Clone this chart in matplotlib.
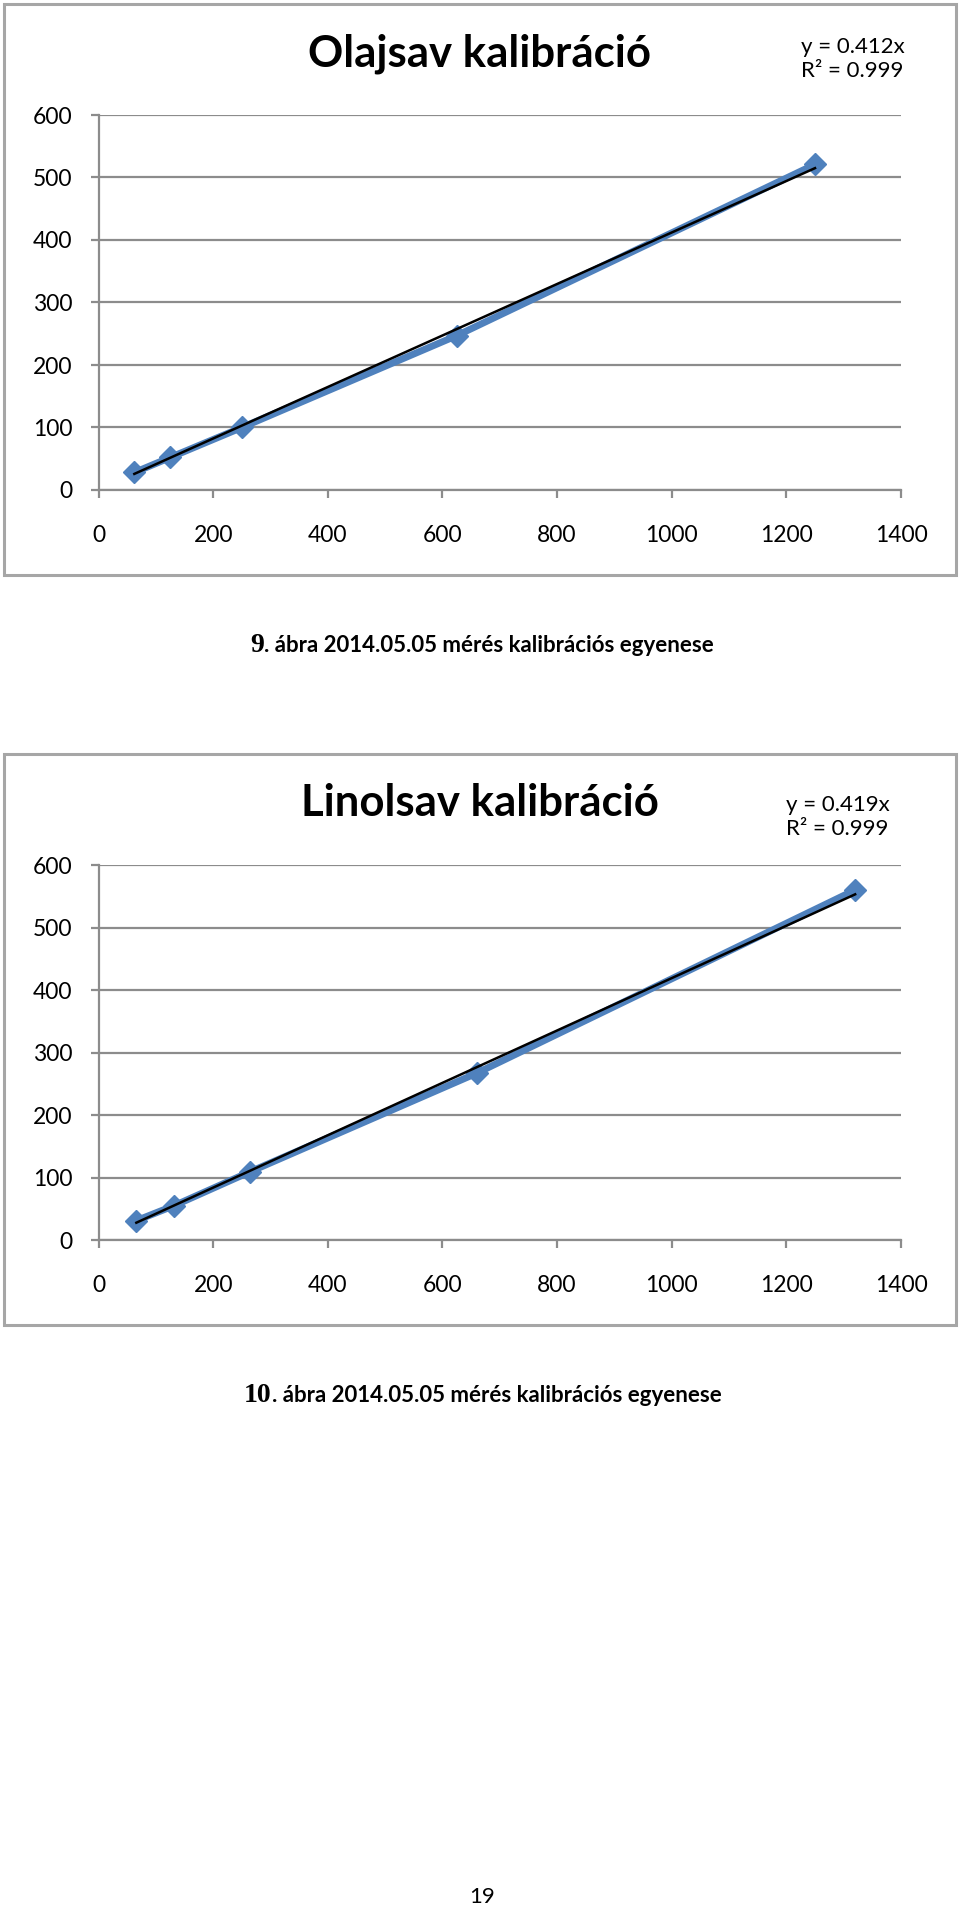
import matplotlib
matplotlib.use("Agg")
import matplotlib.pyplot as plt
from matplotlib.patches import Rectangle

# ---- data ----
x_olaj = [62.5, 125, 250, 625, 1250]
y_olaj = [28, 52, 100, 247, 521]
slope_olaj = 0.412
title_olaj = "Olajsav kalibráció"
eq_olaj = "y = 0.412x\nR² = 0.999"
cap_num_olaj = "9"

x_lin = [66, 132, 264, 660, 1320]
y_lin = [31, 55, 109, 267, 560]
slope_lin = 0.419
title_lin = "Linolsav kalibráció"
eq_lin = "y = 0.419x\nR² = 0.999"
cap_num_lin = "10"

caption_text = ". ábra 2014.05.05 mérés kalibrációs egyenese"
xticks = [0, 200, 400, 600, 800, 1000, 1200, 1400]
yticks = [0, 100, 200, 300, 400, 500, 600]
page_number = "19"

W, H = 960, 1910
DPI = 100
fig = plt.figure(figsize=(W / DPI, H / DPI), dpi=DPI)
fig.patch.set_facecolor("white")

FONT = ["Lato", "DejaVu Sans"]
BLUE = "#4f81bd"
GRID = "#8c8c8c"


def fx(px):
    return px / W


def fy(py):
    return 1 - py / H


def chart(frame_top, frame_bottom, ax_top, ax_bottom, xs, ys, slope, title, eq,
          title_y, eq_x, eq_y):
    # frame
    fig.patches.append(Rectangle((fx(4), fy(frame_bottom)), fx(952), (frame_bottom - frame_top) / H,
                                 transform=fig.transFigure, fill=False,
                                 edgecolor="#a6a6a6", linewidth=2.2))
    left, right = 98.5, 901
    ax = fig.add_axes([fx(left), fy(ax_bottom), fx(right - left), (ax_bottom - ax_top) / H])
    ax.set_xlim(0, 1400)
    ax.set_ylim(0, 600)
    ax.set_xticks(xticks)
    ax.set_yticks(yticks)
    ax.yaxis.grid(True, color=GRID, linewidth=1.6)
    ax.set_axisbelow(True)
    for s in ["top", "right"]:
        ax.spines[s].set_visible(False)
    for s in ["left", "bottom"]:
        ax.spines[s].set_color(GRID)
        ax.spines[s].set_linewidth(1.6)
    ax.tick_params(axis="both", direction="out", color=GRID, width=1.6, length=6,
                   labelsize=16.5, labelcolor="black")
    ax.tick_params(axis="x", pad=19)
    ax.tick_params(axis="y", pad=13)
    for lab in ax.get_xticklabels() + ax.get_yticklabels():
        lab.set_fontfamily(FONT)
    ax.plot(xs, ys, color=BLUE, linewidth=5, marker="D", markersize=11.5,
            markerfacecolor=BLUE, markeredgecolor=BLUE, clip_on=False, zorder=3)
    tx = [xs[0], xs[-1]]
    ax.plot(tx, [slope * v for v in tx], color="black", linewidth=1.8, zorder=4, clip_on=False)
    fig.text(fx(480), fy(title_y), title, ha="center", va="center",
             fontsize=31.5, fontweight="bold", family=FONT)
    fig.text(fx(eq_x), fy(eq_y), eq, ha="left", va="center",
             fontsize=16, family=FONT, linespacing=1.27)
    return ax


chart(4, 575, 115, 490, x_olaj, y_olaj, slope_olaj, title_olaj, eq_olaj,
      title_y=54, eq_x=801, eq_y=59)
chart(754, 1325, 865, 1240, x_lin, y_lin, slope_lin, title_lin, eq_lin,
      title_y=803, eq_x=786, eq_y=817)


def caption(x, y, num):
    t = fig.text(fx(x), fy(y), num, ha="left", va="center", fontsize=20,
                 fontweight="bold", family=["Liberation Serif", "DejaVu Serif"])
    fig.canvas.draw()
    bb = t.get_window_extent()
    fig.text(bb.x1 / W, fy(y), caption_text, ha="left", va="center", fontsize=16,
             fontweight="bold", family=FONT)


caption(250, 645, cap_num_olaj)
caption(244, 1396, cap_num_lin)

fig.text(fx(482), fy(1897), page_number, ha="center", va="center", fontsize=16, family=FONT)

fig.savefig("out.png", dpi=DPI)
